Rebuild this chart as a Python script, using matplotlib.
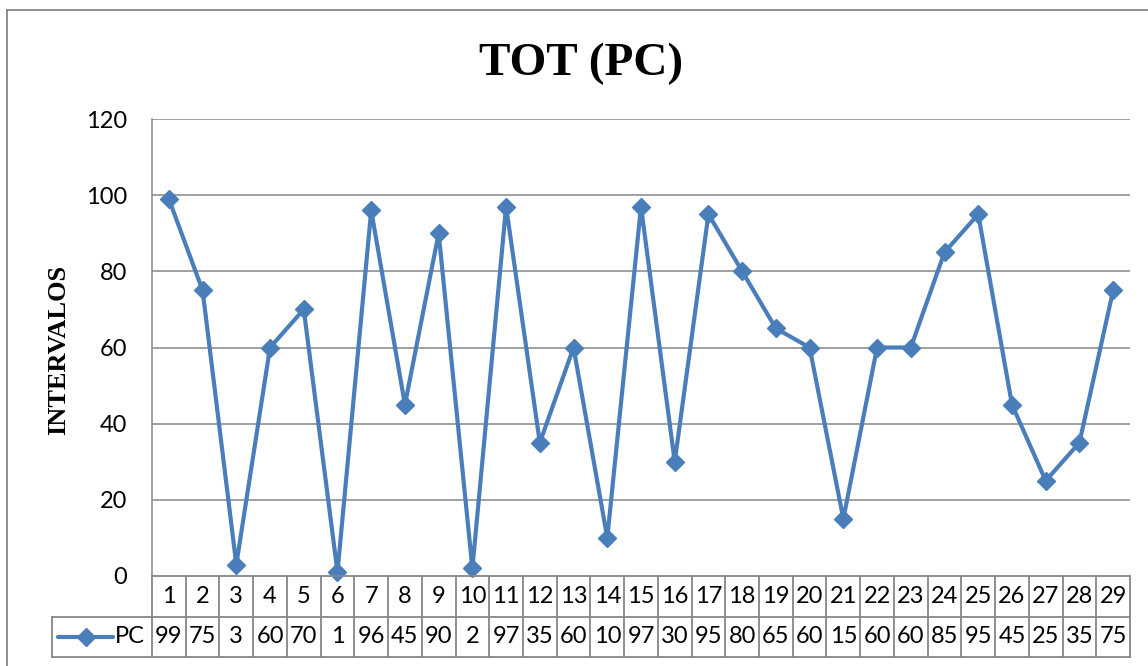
import matplotlib.pyplot as plt
from matplotlib.lines import Line2D

# data
categories = list(range(1, 30))
pc_values = [99, 75, 3, 60, 70, 1, 96, 45, 90, 2, 97, 35, 60, 10, 97,
             30, 95, 80, 65, 60, 15, 60, 60, 85, 95, 45, 25, 35, 75]
series_name = "PC"
y_ticks = [0, 20, 40, 60, 80, 100, 120]

blue = "#4A7EBB"
grid_gray = "#868686"
sans = "Lato"
serif = "Liberation Serif"
fs = 17

W, H = 1148, 666
fig = plt.figure(figsize=(W / 100, H / 100), dpi=100)

def fx(px):
    return px / W

def fy(py):
    return 1 - py / H

# plot area in pixels
left_px, right_px, top_px, bot_px = 152, 1130, 119, 576
ax = fig.add_axes([fx(left_px), fy(bot_px), fx(right_px - left_px), fy(top_px) - fy(bot_px)])
n = len(categories)
ax.set_xlim(0.5, n + 0.5)
ax.set_ylim(0, 120)
ax.set_yticks(y_ticks)
ax.set_xticks([])
for y in y_ticks[1:]:
    ax.axhline(y, color=grid_gray, lw=1.1, zorder=1)
for s in ["top", "right", "bottom"]:
    ax.spines[s].set_visible(False)
ax.spines["left"].set_color(grid_gray)
ax.spines["left"].set_linewidth(1.1)
ax.tick_params(axis="y", length=0, pad=18, labelsize=fs)
for lab in ax.get_yticklabels():
    lab.set_fontfamily(sans)

ax.plot(categories, pc_values, color=blue, lw=3, marker="D", markersize=9.5,
        zorder=3, clip_on=False)

fig.text(fx(58.5), fy(350), "INTERVALOS", fontfamily=serif, fontweight="bold", fontsize=19,
         rotation=90, ha="center", va="center")
fig.text(fx(581.5), fy(75), "TOT (PC)", fontfamily=serif, fontweight="bold", fontsize=34,
         ha="center", va="baseline")

# data table below the plot
tab_bot_px = 657
tax = fig.add_axes([fx(left_px), fy(tab_bot_px), fx(right_px - left_px), fy(bot_px) - fy(tab_bot_px)])
tax.set_xlim(0.5, n + 0.5)
tax.set_ylim(0, 2)
tax.axis("off")
cell_w_px = (right_px - left_px) / n
legend_left = 0.5 - (left_px - 52) / cell_w_px

kw = dict(color=grid_gray, lw=1.3, clip_on=False)
tax.plot([0.5, n + 0.5], [2, 2], **kw)
tax.plot([0.5, n + 0.5], [1, 1], **kw)
tax.plot([legend_left, n + 0.5], [0, 0], **kw)
tax.plot([legend_left, 0.5], [1, 1], **kw)
tax.plot([legend_left, legend_left], [0, 1], **kw)
for i in range(n + 1):
    tax.plot([i + 0.5, i + 0.5], [0, 2], **kw)

for c, v in zip(categories, pc_values):
    tax.text(c, 1.5, str(c), ha="center", va="center", fontsize=fs, fontfamily=sans)
    tax.text(c, 0.5, str(v), ha="center", va="center", fontsize=fs, fontfamily=sans)

# legend key in the table
lx0 = legend_left + (58 - 52) / cell_w_px
lx1 = legend_left + (113 - 52) / cell_w_px
tax.plot([lx0, lx1], [0.5, 0.5], color=blue, lw=3, solid_capstyle="round", clip_on=False)
tax.plot([(lx0 + lx1) / 2], [0.5], color=blue, marker="D", markersize=9.5, clip_on=False)
tax.text(0.5 - 0.2, 0.5, series_name, ha="right", va="center", fontsize=fs, fontfamily=sans)

# outer chart frame (cut off at right and bottom)
fig.add_artist(Line2D([fx(7), fx(7)], [fy(10), 0], color=grid_gray, lw=1.3))
fig.add_artist(Line2D([fx(7), 1], [fy(10), fy(10)], color=grid_gray, lw=1.3))

fig.savefig("out.png", dpi=100)
